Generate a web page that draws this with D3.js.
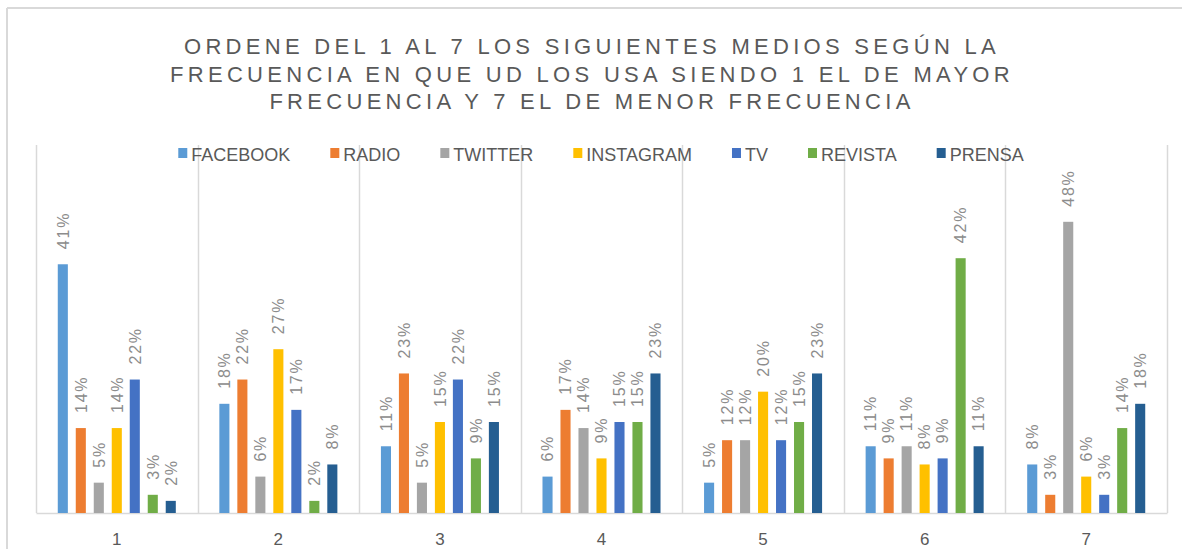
<!DOCTYPE html>
<html>
<head>
<meta charset="utf-8">
<script src="https://cdn.jsdelivr.net/npm/d3@7"></script>
<style>
  body { margin: 0; background: #fff; }
  svg { display: block; font-family: "Liberation Sans", Arial, sans-serif; }
</style>
</head>
<body>
<svg id="chart" width="1182" height="549"></svg>
<script>
// chart data
const categories = ["1", "2", "3", "4", "5", "6", "7"];
const series = ["FACEBOOK", "RADIO", "TWITTER", "INSTAGRAM", "TV", "REVISTA", "PRENSA"];
const colors = ["#5B9BD5", "#ED7D31", "#A5A5A5", "#FFC000", "#4472C4", "#70AD47", "#255E91"];
const facebook  = [41, 18, 11, 6, 5, 11, 8];
const radio     = [14, 22, 23, 17, 12, 9, 3];
const twitter   = [5, 6, 5, 14, 12, 11, 48];
const instagram = [14, 27, 15, 9, 20, 8, 6];
const tv        = [22, 17, 22, 15, 12, 9, 3];
const revista   = [3, 2, 9, 15, 15, 42, 14];
const prensa    = [2, 8, 15, 23, 23, 11, 18];
const titleLines = [
  "ORDENE DEL 1 AL 7 LOS SIGUIENTES MEDIOS SEGÚN LA",
  "FRECUENCIA EN QUE UD LOS USA SIENDO 1 EL DE MAYOR",
  "FRECUENCIA Y 7 EL DE MENOR FRECUENCIA"
];

const values = [facebook, radio, twitter, instagram, tv, revista, prensa];
const rows = [];
series.forEach((s, i) => {
  categories.forEach((c, j) => {
    rows.push({ series: s, cat: c, value: values[i][j] / 100, color: colors[i] });
  });
});

const svg = d3.select("#chart");

// outer chart frame (only top and left edges visible)
svg.append("line")
  .attr("x1", 7).attr("y1", 8).attr("x2", 1182).attr("y2", 8)
  .attr("stroke", "#d9d9d9").attr("stroke-width", 2);
svg.append("line")
  .attr("x1", 7).attr("y1", 8).attr("x2", 7).attr("y2", 549)
  .attr("stroke", "#d9d9d9").attr("stroke-width", 2);

// title
svg.append("g")
  .selectAll("text")
  .data(titleLines)
  .enter()
  .append("text")
  .attr("x", 592)
  .attr("y", (d, i) => 54 + i * 27.5)
  .attr("text-anchor", "middle")
  .attr("font-size", 22)
  .attr("letter-spacing", "4.3px")
  .attr("fill", "#595959")
  .text((d) => d);

// scales
const x = d3.scaleBand().domain(categories).range([36, 1167]);
const xs = d3.scaleBand().domain(series).range([0, x.bandwidth()])
  .paddingInner(0.44).paddingOuter(1.21);
const y = d3.scaleLinear().domain([0, 0.6]).range([513, 149]);

// vertical gridlines at category boundaries
const bounds = categories.map((c) => x(c)).concat([x.range()[1]]);
svg.append("g")
  .selectAll("line")
  .data(bounds)
  .enter()
  .append("line")
  .attr("x1", (d) => Math.round(d) + 0.5)
  .attr("x2", (d) => Math.round(d) + 0.5)
  .attr("y1", y(0.6) - 4)
  .attr("y2", y(0))
  .attr("stroke", "#d9d9d9")
  .attr("stroke-width", 1.5);

// x axis
const xAxis = svg.append("g")
  .attr("transform", `translate(0,${y(0)})`)
  .call(d3.axisBottom(x).tickSize(0).tickPadding(20));
xAxis.select(".domain").attr("stroke", "#d9d9d9").attr("stroke-width", 1.5);
xAxis.selectAll("text")
  .attr("font-size", 17)
  .attr("font-family", "Liberation Sans, Arial, sans-serif")
  .attr("fill", "#595959");

// bars
svg.append("g")
  .selectAll("rect")
  .data(rows)
  .enter()
  .append("rect")
  .attr("x", (d) => x(d.cat) + xs(d.series))
  .attr("width", xs.bandwidth())
  .attr("y", (d) => y(d.value))
  .attr("height", (d) => y(0) - y(d.value))
  .attr("fill", (d) => d.color);

// data labels, rotated
svg.append("g")
  .selectAll("text")
  .data(rows)
  .enter()
  .append("text")
  .attr("transform", (d) => {
    const cx = x(d.cat) + xs(d.series) + xs.bandwidth() / 2;
    return `translate(${cx},${y(d.value) - 15}) rotate(-90)`;
  })
  .attr("dy", "0.36em")
  .attr("font-size", 16)
  .attr("letter-spacing", "1.8px")
  .attr("fill", "#8c8c8c")
  .text((d) => Math.round(d.value * 100) + "%");

// legend
const legend = svg.append("g").attr("transform", "translate(0,161)");
const items = legend.selectAll("g")
  .data(series)
  .enter()
  .append("g");
items.append("rect")
  .attr("y", -13)
  .attr("width", 9)
  .attr("height", 10)
  .attr("fill", (d, i) => colors[i]);
items.append("text")
  .attr("x", 13)
  .attr("font-size", 18)
  .attr("fill", "#595959")
  .text((d) => d);

// lay legend items out side by side, centred
let widths = [];
items.each(function () { widths.push(this.getBBox().width); });
const gap = 40;
const total = d3.sum(widths) + gap * (widths.length - 1);
let cursor = 601 - total / 2;
items.attr("transform", (d, i) => {
  const t = `translate(${cursor},0)`;
  cursor += widths[i] + gap;
  return t;
});
</script>
</body>
</html>
